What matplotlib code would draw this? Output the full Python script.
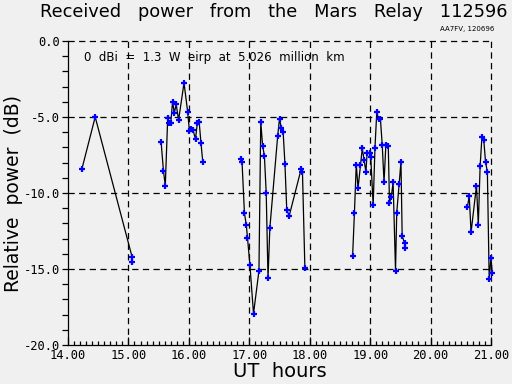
import numpy as np
import matplotlib
matplotlib.use("Agg")
import matplotlib.pyplot as plt
from matplotlib.ticker import MultipleLocator, FormatStrFormatter

# Relay passes, UT hours vs. relative power (dB)
pass1Hours = [14.23, 14.45, 15.06, 15.06]
pass1Power = [-8.42, -5.00, -14.20, -14.55]

pass2Hours = [15.54, 15.58, 15.61, 15.65, 15.67, 15.70, 15.73, 15.76, 15.79, 15.83,
              15.92, 15.98, 16.01, 16.04, 16.07, 16.11, 16.14, 16.17, 16.20, 16.23]
pass2Power = [-6.62, -8.55, -9.52, -5.05, -5.42, -5.42, -4.01, -4.72, -4.16, -5.20,
              -2.76, -4.65, -5.94, -5.77, -5.88, -6.45, -5.40, -5.30, -6.69, -7.94]

pass3Hours = [16.86, 16.88, 16.92, 16.95, 16.97, 17.01, 17.07, 17.16, 17.19, 17.22,
              17.25, 17.28, 17.31, 17.34, 17.47, 17.50, 17.53, 17.56, 17.59, 17.62,
              17.66, 17.86, 17.88, 17.92]
pass3Power = [-7.76, -7.96, -11.34, -12.08, -12.93, -14.72, -17.94, -15.11, -5.31, -6.88,
              -7.54, -10.00, -15.59, -12.32, -6.25, -5.11, -5.72, -5.97, -8.07, -11.10,
              -11.51, -8.40, -8.62, -14.93]

pass4Hours = [18.71, 18.74, 18.77, 18.80, 18.84, 18.87, 18.90, 18.93, 18.95, 18.99,
              19.01, 19.05, 19.08, 19.11, 19.14, 19.17, 19.20, 19.23, 19.26, 19.30,
              19.32, 19.35, 19.38, 19.42, 19.44, 19.48, 19.51, 19.53, 19.57, 19.57]
pass4Power = [-14.13, -11.30, -8.14, -9.67, -8.18, -7.06, -7.83, -8.62, -7.35, -7.35,
              -7.63, -10.81, -7.02, -4.65, -5.15, -5.13, -6.84, -9.28, -6.84, -6.89,
              -10.64, -10.26, -9.30, -15.11, -11.30, -9.41, -7.94, -12.83, -13.30, -13.62]

pass5Hours = [20.61, 20.64, 20.67, 20.76, 20.79, 20.82, 20.85, 20.88, 20.91, 20.94,
              20.97, 21.00, 21.02]
pass5Power = [-10.90, -10.22, -12.59, -9.52, -12.10, -8.24, -6.30, -6.49, -7.98, -8.60,
              -15.66, -14.26, -15.24]

passes = [(pass1Hours, pass1Power), (pass2Hours, pass2Power), (pass3Hours, pass3Power),
          (pass4Hours, pass4Power), (pass5Hours, pass5Power)]

bgColor = "#f0f0f0"
monoFont = "DejaVu Sans Mono"

fig = plt.figure(figsize=(5.12, 3.84), dpi=100, facecolor=bgColor)
ax = fig.add_axes([68 / 512, 39 / 384, 423 / 512, 304 / 384], facecolor=bgColor)

for hours, power in passes:
    ax.plot(hours, power, color="black", linewidth=0.9, zorder=3, clip_on=False)
    ax.plot(hours, power, linestyle="none", marker="+", markersize=4.5,
            markeredgewidth=1.6, color="blue", zorder=4, clip_on=False)

ax.set_xlim(14, 21)
ax.set_ylim(-20, 0)

# dashed grid on the major ticks
for xv in range(15, 22):
    ax.plot([xv, xv], [-20, 0], color="black", linewidth=0.9, dashes=(5, 3.5), zorder=2, clip_on=False)
for yv in [-15, -10, -5, 0]:
    ax.plot([14, 21], [yv, yv], color="black", linewidth=0.9, dashes=(5, 3.5), zorder=2, clip_on=False)

for side in ["top", "right"]:
    ax.spines[side].set_visible(False)
for side in ["left", "bottom"]:
    ax.spines[side].set_linewidth(0.9)

ax.xaxis.set_major_locator(MultipleLocator(1))
ax.xaxis.set_minor_locator(MultipleLocator(0.1))
ax.yaxis.set_major_locator(MultipleLocator(5))
ax.yaxis.set_minor_locator(MultipleLocator(1))
ax.xaxis.set_major_formatter(FormatStrFormatter("%.2f"))
ax.yaxis.set_major_formatter(FormatStrFormatter("%.1f"))
ax.tick_params(axis="x", which="major", direction="in", length=6, width=0.9, pad=3)
ax.tick_params(axis="x", which="minor", direction="in", length=3, width=0.9)
ax.tick_params(axis="y", which="major", direction="out", length=4.5, width=0.9, pad=1)
ax.tick_params(axis="y", which="minor", direction="out", length=4.5, width=0.9)
for lbl in ax.get_xticklabels() + ax.get_yticklabels():
    lbl.set_fontfamily(monoFont)
    lbl.set_fontsize(8.7)

ax.set_xlabel("UT  hours", fontsize=14, labelpad=0)
ax.set_ylabel("Relative  power  (dB)", fontsize=13.5, labelpad=1)

fig.text(0.535, 0.968, "Received   power   from   the   Mars   Relay   112596",
         fontsize=12.8, ha="center", va="center")
fig.text(0.966, 0.925, "AA7FV, 120696", fontsize=5, ha="right", va="center")
ax.text(14.27, -1.1, "0  dBi  =  1.3  W  eirp  at  5.026  million  km",
        fontsize=8.5, ha="left", va="center", zorder=1)

fig.savefig("out.png", dpi=100, facecolor=bgColor)
